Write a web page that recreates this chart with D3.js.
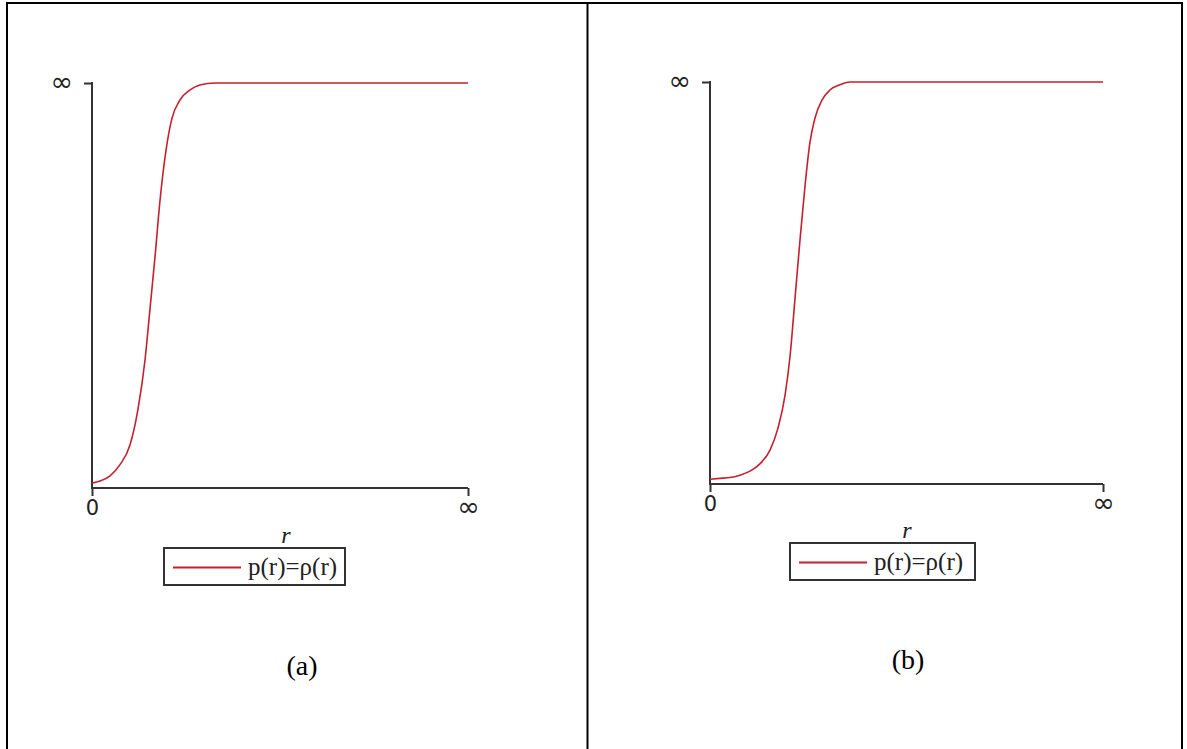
<!DOCTYPE html>
<html>
<head>
<meta charset="utf-8">
<script src="https://cdn.jsdelivr.net/npm/d3@7"></script>
<style>
  html, body { margin: 0; padding: 0; background: #fff; }
  svg { display: block; }
</style>
</head>
<body>
<svg id="fig" width="1187" height="749"></svg>
<script>
// Profile p(r) = ρ(r) sampled along r; the r-axis runs from 0 to "∞" (10 units here),
// values are normalised so that 1 is the "∞" level on the vertical axis.
const rA = [0, 0.21, 0.48, 0.74, 1.01, 1.22, 1.41, 1.54, 1.68, 1.81, 1.97, 2.13, 2.34, 2.61, 2.87, 3.27, 10];
const pA = [0.012, 0.017, 0.03, 0.057, 0.106, 0.193, 0.316, 0.44, 0.575, 0.711, 0.835, 0.914, 0.958, 0.983, 0.995, 1.0, 1.0];

const rB = [0, 0.25, 0.51, 0.76, 1.02, 1.27, 1.53, 1.73, 1.91, 2.04, 2.16, 2.29, 2.42, 2.54, 2.67, 2.85, 3.05, 3.31, 3.56, 10];
const pB = [0.012, 0.014, 0.016, 0.022, 0.032, 0.05, 0.085, 0.139, 0.221, 0.321, 0.458, 0.607, 0.744, 0.848, 0.91, 0.955, 0.98, 0.993, 1.0, 1.0];

const xTicks = [0, 10];
const xTickLabels = ["0", "∞"];
const yTicks = [1];
const yTickLabels = ["∞"];
const axisTitle = "r";
const legendText = "p(r)=ρ(r)";
const captions = ["(a)", "(b)"];

const svg = d3.select("#fig");
const curveColor = "#c4202e";
const axisColor = "#333";

// Table frame around the two panels
const frame = svg.append("g").attr("stroke", "#000").attr("stroke-width", 2);
frame.append("line").attr("x1", 6).attr("x2", 1183).attr("y1", 3).attr("y2", 3);
[7, 587.5, 1182].forEach(x =>
  frame.append("line").attr("x1", x).attr("x2", x).attr("y1", 2).attr("y2", 749));

// "∞" is drawn larger than the digits so it reads at the same weight
function styleTickText(sel) {
  sel.attr("fill", "#222")
    .style("font-family", "'DejaVu Sans', sans-serif")
    .style("font-size", t => (t === 0 ? "21px" : "27px"));
}

function panel(cfg) {
  const g = svg.append("g");
  const x = d3.scaleLinear().domain([0, 10]).range([cfg.x0, cfg.x1]);
  const y = d3.scaleLinear().domain([0, 1]).range([cfg.y0, cfg.y1]);

  // x axis with downward ticks
  const xAxis = g.append("g")
    .attr("transform", `translate(0,${cfg.y0})`)
    .call(d3.axisBottom(x).tickValues(xTicks).tickSize(8)
      .tickFormat((d, i) => xTickLabels[i]));
  // y axis with the single top tick pointing left
  const yAxis = g.append("g")
    .attr("transform", `translate(${cfg.x0},0)`)
    .call(d3.axisLeft(y).tickValues(yTicks).tickSize(8)
      .tickFormat((d, i) => yTickLabels[i]));

  [xAxis, yAxis].forEach(a => {
    a.select(".domain").remove();
    a.selectAll(".tick line").attr("stroke", axisColor).attr("stroke-width", 2);
    styleTickText(a.selectAll(".tick text"));
  });
  xAxis.selectAll(".tick text").attr("y", t => (t === 0 ? 12 : 9));
  yAxis.selectAll(".tick text").attr("x", -19).attr("dy", "0.28em");

  // axis lines
  g.append("line").attr("x1", cfg.x0).attr("x2", cfg.x1)
    .attr("y1", cfg.y0).attr("y2", cfg.y0)
    .attr("stroke", axisColor).attr("stroke-width", 2);
  g.append("line").attr("x1", cfg.x0).attr("x2", cfg.x0)
    .attr("y1", cfg.y0 + 1).attr("y2", cfg.y1 - 1)
    .attr("stroke", axisColor).attr("stroke-width", 2);

  // curve
  const pts = cfg.r.map((r, i) => [r, cfg.p[i]]);
  g.append("path")
    .datum(pts)
    .attr("fill", "none")
    .attr("stroke", curveColor)
    .attr("stroke-width", 1.6)
    .attr("d", d3.line().x(d => x(d[0])).y(d => y(d[1])).curve(d3.curveMonotoneX));

  // axis title
  g.append("text")
    .attr("x", cfg.titleX).attr("y", cfg.titleY)
    .attr("text-anchor", "middle")
    .style("font-family", "'Liberation Serif', serif")
    .style("font-style", "italic")
    .style("font-size", "24px")
    .attr("fill", "#222")
    .text(axisTitle);

  // legend
  const L = cfg.legend;
  g.append("rect")
    .attr("x", L.x).attr("y", L.y).attr("width", L.w).attr("height", L.h)
    .attr("fill", "#fff").attr("stroke", axisColor).attr("stroke-width", 2);
  g.append("line")
    .attr("x1", L.x + 9).attr("x2", L.x + 77)
    .attr("y1", L.y + L.h / 2 + 1).attr("y2", L.y + L.h / 2 + 1)
    .attr("stroke", curveColor).attr("stroke-width", 2);
  g.append("text")
    .attr("x", L.x + 84).attr("y", L.y + L.h / 2 + 8)
    .style("font-family", "'Liberation Serif', serif")
    .style("font-size", "25px")
    .attr("fill", "#222")
    .text(legendText);

  // caption
  g.append("text")
    .attr("x", cfg.capX).attr("y", cfg.capY)
    .attr("text-anchor", "middle")
    .style("font-family", "'Liberation Serif', 'Times New Roman', serif")
    .style("font-size", "28px")
    .attr("fill", "#000")
    .text(cfg.caption);
}

panel({
  x0: 92, x1: 468, y0: 488, y1: 83, r: rA, p: pA,
  titleX: 286, titleY: 543,
  legend: { x: 164, y: 548, w: 181, h: 37 },
  capX: 302, capY: 675, caption: captions[0]
});

panel({
  x0: 710, x1: 1103, y0: 484, y1: 82, r: rB, p: pB,
  titleX: 907, titleY: 538,
  legend: { x: 790, y: 543, w: 185, h: 37 },
  capX: 908, capY: 669, caption: captions[1]
});
</script>
</body>
</html>
